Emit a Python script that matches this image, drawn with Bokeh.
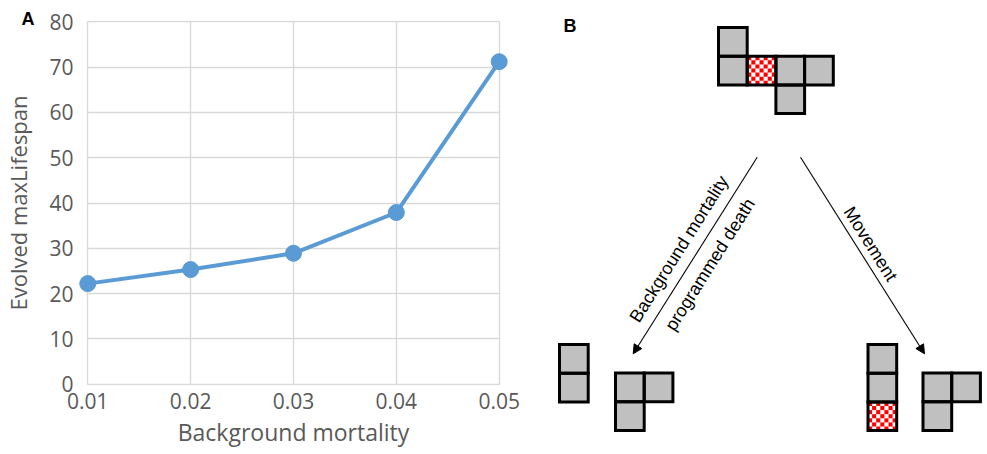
from bokeh.plotting import figure
from bokeh.layouts import row, column
from bokeh.models import Range1d, FixedTicker, Arrow, NormalHead, Label, PrintfTickFormatter
from bokeh.core.properties import value
from bokeh.embed import file_html
from bokeh.resources import INLINE
import math

# ---------------- data (panel A) ----------------
mortality = [0.01, 0.02, 0.03, 0.04, 0.05]
max_lifespan = [22.2, 25.3, 28.9, 37.9, 71.2]
x_ticks = [0.01, 0.02, 0.03, 0.04, 0.05]
y_ticks = [0, 10, 20, 30, 40, 50, 60, 70, 80]
x_label = "Background mortality"
y_label = "Evolved maxLifespan"

# ---------------- data (panel B diagram, cells as (col,row)) ----------------
parent_cells = [(0, 0), (0, 1), (1, 1), (2, 1), (3, 1), (2, 2)]
parent_marked = [(1, 1)]
left_a_cells = [(0, 0), (0, 1)]
left_b_cells = [(0, 0), (1, 0), (0, 1)]
right_a_cells = [(0, 0), (0, 1), (0, 2)]
right_a_marked = [(0, 2)]
right_b_cells = [(0, 0), (1, 0), (0, 1)]
left_texts = ["Background mortality", "programmed death"]
right_texts = ["Movement"]

# ---------------- panel A ----------------
BLUE = "#5B9BD5"
GRID = "#d9d9d9"
TXT = "#595959"

pA = figure(width=535, height=454, x_range=Range1d(0.009, 0.051), y_range=Range1d(-0.3, 80.3),
            output_backend="svg", toolbar_location=None,
            min_border_left=77, min_border_right=26, min_border_top=20, min_border_bottom=69)
pA.outline_line_color = None
pA.background_fill_color = "white"
pA.border_fill_color = "white"

pA.xgrid.ticker = FixedTicker(ticks=x_ticks)
pA.ygrid.ticker = FixedTicker(ticks=y_ticks)
for g in (pA.xgrid[0], pA.ygrid[0]):
    g.grid_line_color = GRID
    g.grid_line_width = 1.4
pA.ygrid[0].cross_bounds = (x_ticks[0], x_ticks[-1])
pA.xgrid[0].cross_bounds = (y_ticks[0], y_ticks[-1])

pA.line(mortality, max_lifespan, line_color=BLUE, line_width=4)
pA.scatter(mortality, max_lifespan, size=16, fill_color=BLUE, line_color=BLUE)

pA.xaxis.ticker = FixedTicker(ticks=x_ticks)
pA.xaxis.formatter = PrintfTickFormatter(format="%.2f")
pA.yaxis.ticker = FixedTicker(ticks=y_ticks)
pA.xaxis.axis_label = x_label
pA.yaxis.axis_label = y_label
for ax in (pA.xaxis[0], pA.yaxis[0]):
    ax.axis_line_color = None
    ax.major_tick_line_color = None
    ax.minor_tick_line_color = None
    ax.major_tick_out = 0
    ax.major_tick_in = 0
    ax.minor_tick_out = 0
    ax.minor_tick_in = 0
    ax.major_label_text_font = "Open Sans"
    ax.major_label_text_font_size = "21px"
    ax.major_label_text_color = TXT
    ax.axis_label_text_font = "Open Sans"
    ax.axis_label_text_font_size = "22px"
    ax.axis_label_text_color = TXT
    ax.axis_label_text_font_style = "normal"
pA.xaxis.axis_label_text_font_size = "23px"
pA.xaxis.major_label_standoff = 7
pA.xaxis.axis_label_standoff = 4
pA.yaxis.major_label_standoff = 4
pA.yaxis.axis_label_standoff = 13

# panel letter, placed in the (unclipped) top side panel
pA.add_layout(Label(x=-56, y=2, x_units="screen", y_units="screen", text="A",
                    text_font="Liberation Sans", text_font_style="bold",
                    text_font_size="18px", text_baseline="alphabetic", text_align="left",
                    text_color="black"), "above")

# ---------------- panel B ----------------
pB = figure(width=452, height=454, x_range=Range1d(535, 987), y_range=Range1d(454, 0),
            output_backend="svg", toolbar_location=None, min_border=0,
            x_axis_location=None, y_axis_location=None)
pB.outline_line_color = None
pB.grid.visible = False
pB.background_fill_color = "white"
pB.border_fill_color = "white"

CELL = 28.7
GRAY = "#c0c0c0"

shapes = [
    (parent_cells, parent_marked, (718.0, 27.0)),
    (left_a_cells, [], (559.0, 344.0)),
    (left_b_cells, [], (615.0, 372.5)),
    (right_a_cells, right_a_marked, (867.5, 344.0)),
    (right_b_cells, [], (922.5, 372.5)),
]

gx, gy, mx, my, ox, oy, cx, cy = [], [], [], [], [], [], [], []
N_CHECK = 7
sub = CELL / N_CHECK
for cells, marked, (x0, y0) in shapes:
    for (c, r) in cells:
        xc = x0 + (c + 0.5) * CELL
        yc = y0 + (r + 0.5) * CELL
        ox.append(xc); oy.append(yc)
        if (c, r) in marked:
            mx.append(xc); my.append(yc)
            for i in range(N_CHECK):
                for j in range(N_CHECK):
                    if (i + j) % 2 == 0:
                        cx.append(x0 + c * CELL + (i + 0.5) * sub)
                        cy.append(y0 + r * CELL + (j + 0.5) * sub)
        else:
            gx.append(xc); gy.append(yc)

pB.rect(gx, gy, width=CELL, height=CELL, fill_color=GRAY, line_color=None)
pB.rect(mx, my, width=CELL, height=CELL, fill_color="white", line_color=None)
pB.rect(cx, cy, width=sub, height=sub, fill_color="#ff0000", line_color=None)
pB.rect(ox, oy, width=CELL, height=CELL, fill_color=None, line_color="black", line_width=3,
        line_join="miter")

pB.add_layout(Arrow(end=NormalHead(size=9, fill_color="black", line_color="black"),
                    x_start=756.7, y_start=156.7, x_end=632.7, y_end=353.3,
                    line_color="black", line_width=1.1))
pB.add_layout(Arrow(end=NormalHead(size=9, fill_color="black", line_color="black"),
                    x_start=800.0, y_start=156.7, x_end=924.0, y_end=353.3,
                    line_color="black", line_width=1.1))

ang = math.atan2(196.6, 124.0)
pB.text([678.5, 709.5], [248.5, 264.0], text=left_texts, angle=ang,
        text_font=value("Liberation Sans"), text_font_size="18px", text_color="black",
        text_align="center", text_baseline="middle")
pB.text([870.0], [243.4], text=right_texts, angle=-ang,
        text_font=value("Liberation Sans"), text_font_size="18px", text_color="black",
        text_align="center", text_baseline="middle")
pB.text([563.0], [25.0], text=["B"], text_font=value("Liberation Sans"), text_font_style="bold",
        text_font_size="18px", text_color="black", text_align="left", text_baseline="alphabetic")

layout = row(pA, column(pB))
open("out.html", "w").write(file_html(layout, INLINE))
